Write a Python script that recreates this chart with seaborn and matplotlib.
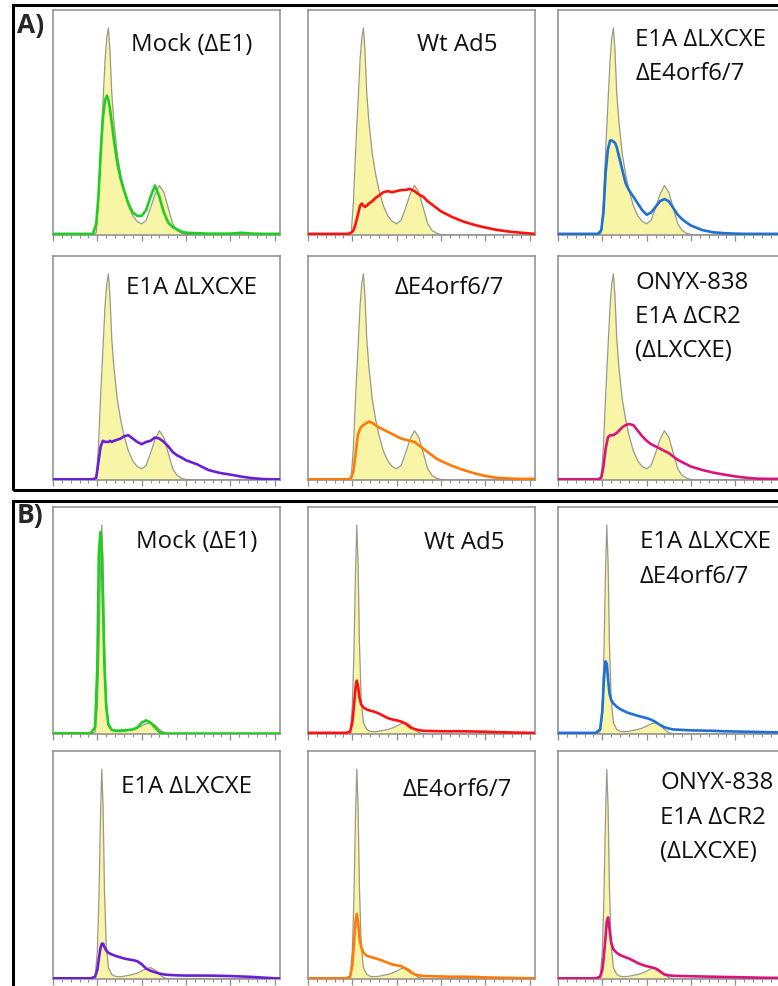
import numpy as np
import pandas as pd
import matplotlib
matplotlib.use("Agg")
import matplotlib.pyplot as plt
from matplotlib.patches import Rectangle
from matplotlib.ticker import MultipleLocator
import seaborn as sns

sns.set_style("white")
plt.rcParams['font.family'] = ['Open Sans', 'DejaVu Sans']

# ---------------- data (DNA content histograms, % of axis height) ----------------
XA = [0, 180, 195, 205, 215, 225, 235, 243, 250, 257, 265, 275, 290, 305, 320, 340, 360, 380,
      400, 420, 440, 460, 480, 500, 520, 540, 560, 580, 600, 650, 700, 750, 800, 850, 900, 950, 1000, 1024]
ref_A = [0, 0, 1, 15, 38, 58, 78, 88, 92, 82, 63, 50, 36, 27, 20, 13, 8.5, 6,
         5, 6.5, 12, 18, 22, 19, 12, 5, 2, 0.8, 0.2, 0, 0, 0, 0, 0, 0, 0, 0, 0]
mock_A = [0.5, 0.5, 5, 17, 36, 52, 60, 62, 60, 56, 50, 42, 32, 25, 20, 14, 10, 8.5,
          8.5, 11, 17, 22, 17, 10, 5.5, 3.5, 2.5, 1.5, 1, 0.8, 0.6, 0.6, 0.6, 1, 0.6, 0.5, 0.5, 0.5]
wt_A = [0.5, 0.5, 1, 2, 5, 9, 13, 14, 13, 12.5, 13, 14, 15, 16.5, 17.5, 19, 19.5, 19,
        19.5, 20, 20, 20.5, 19.5, 18, 17, 15, 13.5, 12, 10.5, 8, 6, 4.5, 3.3, 2.3, 1.6, 1.1, 0.7, 0.5]
dbl_A = [0.5, 0.5, 2, 10, 28, 38, 42, 42, 41.5, 41, 39, 35, 29, 23, 20, 17, 14, 11,
         9, 10, 12.5, 15, 16, 15, 12, 9, 7, 5.5, 4.2, 2.2, 1.2, 0.8, 0.6, 0.5, 0.5, 0.5, 0.5, 0.5]
lxcxe_A = [0.3, 0.3, 1, 8, 15, 17.5, 17, 17, 17, 17.5, 17, 17.5, 18, 18.5, 19.5, 20, 18.5, 17,
           16, 17, 17.5, 19, 18.5, 17, 15, 12.5, 11, 10, 8.8, 7, 4.5, 3.2, 2.4, 1.5, 0.8, 0.4, 0.3, 0.3]
e4_A = [0.3, 0.3, 1, 4, 12, 20, 23, 24, 24.5, 25, 25.5, 26, 25.5, 24.5, 23.5, 22.5, 21.5, 20.5,
        19.5, 18.5, 18, 17.5, 17, 15.5, 14, 12.5, 11, 9.5, 8.5, 6.3, 4.5, 3, 1.8, 1, 0.7, 0.5, 0.5, 0.5]
onyx_A = [0.3, 0.3, 1, 6, 14, 19, 20, 20, 20, 20.5, 21, 22, 23.5, 24.5, 25, 24.5, 22, 19.5,
          17.5, 16, 15, 14, 13, 12, 10.5, 9, 8, 7, 6, 4.5, 3.3, 2.4, 1.6, 1, 0.6, 0.5, 0.5, 0.5]

XB = [0, 170, 190, 200, 207, 214, 220, 226, 232, 240, 250, 265, 280, 300, 320, 340, 360, 380,
      400, 420, 440, 460, 480, 500, 520, 560, 600, 650, 700, 750, 800, 850, 900, 950, 1000, 1024]
ref_B = [0, 0, 1, 12, 35, 70, 92, 75, 40, 15, 5, 2, 1.2, 1, 1.2, 1.6, 2, 2.6,
         3.5, 4.5, 5, 4, 2, 0.6, 0.1, 0, 0, 0, 0, 0, 0, 0, 0, 0, 0, 0]
mock_B = [0.3, 0.3, 3, 30, 80, 89, 80, 55, 30, 12, 4, 1.8, 1.5, 1.5, 1.6, 1.8, 2, 2.8,
          5, 6, 5, 3, 0.8, 0.3, 0.2, 0.2, 0.2, 0.2, 0.2, 0.2, 0.2, 0.2, 0.2, 0.2, 0.2, 0.2]
wt_B = [0.5, 0.5, 1, 5, 12, 20, 23.5, 21, 16, 13, 11.7, 10.8, 10.3, 9.8, 9, 8, 7, 6.4,
        6, 5.5, 4.6, 3, 2.2, 1.7, 1.4, 1.3, 1.2, 1.2, 1.2, 1.1, 1, 0.8, 0.7, 0.6, 0.5, 0.5]
dbl_B = [0.5, 0.5, 2, 10, 24, 32, 31, 24, 18, 15, 13.5, 12, 11, 10, 9.2, 8.6, 8, 7.5,
         7, 6.3, 5.3, 4, 3, 2.4, 2, 1.8, 1.6, 1.5, 1.4, 1.2, 1.1, 1, 0.9, 0.8, 0.7, 0.7]
lxcxe_B = [0.3, 0.3, 1, 4, 9, 13.5, 15.5, 15.5, 14, 12.5, 11.5, 10.8, 10.2, 9.6, 9, 8.6, 8.3, 7.8,
           6.5, 4.6, 3.6, 3, 2.4, 2, 1.8, 1.6, 1.5, 1.5, 1.5, 1.4, 1.3, 1.1, 0.9, 0.6, 0.3, 0.3]
e4_B = [0.3, 0.3, 1, 6, 15, 25, 28.5, 25, 18, 14, 11.5, 10.2, 9.7, 9.2, 8.6, 7.9, 7.1, 6.4,
        6, 5.7, 4.6, 3.2, 2.1, 1.6, 1.3, 1.2, 1.1, 1.0, 1.0, 0.9, 0.7, 0.6, 0.5, 0.4, 0.3, 0.3]
onyx_B = [0.3, 0.3, 1, 4, 10, 18, 25, 27, 22, 16, 13, 11.5, 10.5, 9.7, 9, 8, 7, 6.2,
          5.6, 5.2, 4.6, 3.3, 2, 1.6, 1.4, 1.3, 1.2, 1.1, 1.0, 0.9, 0.8, 0.7, 0.6, 0.5, 0.5, 0.5]

labels = ["Mock (ΔE1)", "Wt Ad5", "E1A ΔLXCXE\nΔE4orf6/7",
          "E1A ΔLXCXE", "ΔE4orf6/7", "ONYX-838\nE1A ΔCR2\n(ΔLXCXE)"]
colors = ["#1fcf1f", "#ff1111", "#1f70d6", "#6a1fd6", "#ff7a0a", "#d8157c"]
series_A = [mock_A, wt_A, dbl_A, lxcxe_A, e4_A, onyx_A]
series_B = [mock_B, wt_B, dbl_B, lxcxe_B, e4_B, onyx_B]

# ---------------- layout (pixels) ----------------
W, H = 778, 987
fig = plt.figure(figsize=(W / 100, H / 100), dpi=100)

col_left = [53, 308, 558]
ax_w = 227
rows = {"A": [(11, 236), (257, 481)], "B": [(508, 735), (752, 980)]}

# label positions in axes fraction: (x, y of first line)
lab_pos = {
    "A": [(0.345, 0.85), (0.48, 0.85), (0.34, 0.871), (0.32, 0.862), (0.38, 0.862), (0.34, 0.884)],
    "B": [(0.365, 0.85), (0.51, 0.846), (0.36, 0.85), (0.30, 0.846), (0.415, 0.833), (0.45, 0.864)],
}

def px_axes(left, top, bottom):
    return [left / W, 1 - bottom / H, ax_w / W, (bottom - top) / H]

for panel, X, ref, series in [("A", XA, ref_A, series_A), ("B", XB, ref_B, series_B)]:
    for i in range(6):
        r, c = divmod(i, 3)
        top, bottom = rows[panel][r]
        ax = fig.add_axes(px_axes(col_left[c], top, bottom))
        df = pd.DataFrame({"x": X, "ref": ref, "val": series[i]})
        ax.fill_between(df["x"], 0, df["ref"], color="#f8f5a6", lw=0, zorder=1)
        sns.lineplot(data=df, x="x", y="ref", ax=ax, color="#9a9a8a", lw=0.9, zorder=2)
        sns.lineplot(data=df, x="x", y="val", ax=ax, color=colors[i], lw=1.9, zorder=3)
        ax.set_xlim(0, 1024)
        ax.set_ylim(0, 100)
        ax.set_xlabel("")
        ax.set_ylabel("")
        ax.set_yticks([])
        ax.xaxis.set_major_locator(MultipleLocator(200))
        ax.xaxis.set_minor_locator(MultipleLocator(40))
        ax.tick_params(axis="x", which="major", direction="out", length=4.5, width=0.9,
                       color="#8c8c8c", labelbottom=False, bottom=True)
        ax.tick_params(axis="x", which="minor", direction="out", length=2.5, width=0.8,
                       color="#8c8c8c", bottom=True)
        for s in ax.spines.values():
            s.set_color("#8c8c8c")
            s.set_linewidth(1.1)
        lx, ly = lab_pos[panel][i]
        for k, line in enumerate(labels[i].split("\n")):
            ax.text(lx, ly - k * 0.152, line, transform=ax.transAxes, ha="left", va="center",
                    fontsize=17.3, color="#111111")

# outer frames and panel letters
fig.add_artist(Rectangle((12.5 / W, 1 - 491 / H), (800 - 12.5) / W, (491 - 5.5) / H,
                         transform=fig.transFigure, fill=False, lw=2.2, ec="black", zorder=10))
fig.add_artist(Rectangle((12.5 / W, 1 - 1000 / H), (800 - 12.5) / W, (1000 - 502) / H,
                         transform=fig.transFigure, fill=False, lw=2.2, ec="black", zorder=10))
fig.text(17 / W, 1 - 25 / H, "A)", fontsize=19, fontweight="bold", ha="left", va="center")
fig.text(17 / W, 1 - 516 / H, "B)", fontsize=19, fontweight="bold", ha="left", va="center")

fig.savefig("out.png", dpi=100)
